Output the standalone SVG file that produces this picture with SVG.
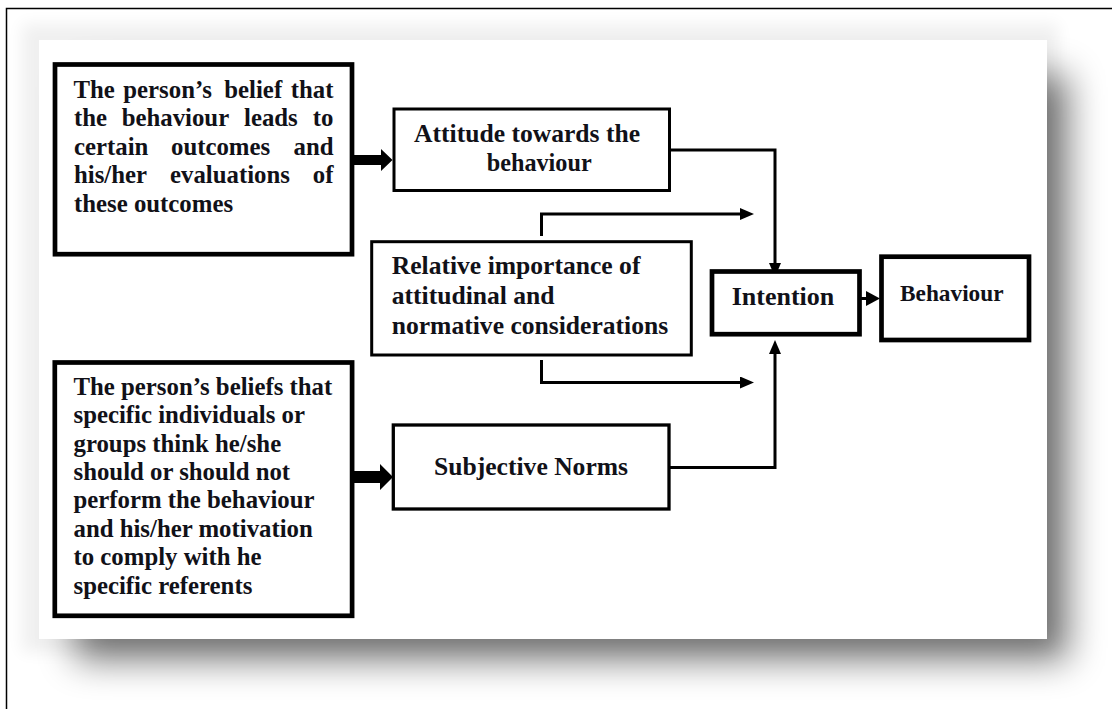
<svg xmlns="http://www.w3.org/2000/svg" width="1112" height="709" viewBox="0 0 1112 709">
  <style>
    .box { fill: #ffffff; stroke: #000000; }
    .t { font-family: "Liberation Serif", "Times New Roman", serif; font-weight: bold; fill: #111118; }
    .t1 { font-size: 24.8px; }
    .t2 { font-size: 25.6px; }
    .wire { fill: none; stroke: #000000; stroke-width: 3; stroke-linejoin: miter; }
  </style>
  <defs>
    <filter id="shadowBlur" x="-10%" y="-15%" width="120%" height="130%">
      <feGaussianBlur stdDeviation="18"/>
    </filter>
    <filter id="haloBlur" x="-10%" y="-10%" width="120%" height="120%">
      <feGaussianBlur stdDeviation="8"/>
    </filter>
    <marker id="head" viewBox="0 0 14 12" refX="0" refY="6" markerWidth="14" markerHeight="12" markerUnits="userSpaceOnUse" orient="auto">
      <path d="M0,0 L14,6 L0,12 Z" fill="#000000"/>
    </marker>
    <marker id="headSmall" viewBox="0 0 14 15" refX="0" refY="7.5" markerWidth="14" markerHeight="15" markerUnits="userSpaceOnUse" orient="auto">
      <path d="M0,0 L14,7.5 L0,15 Z" fill="#000000"/>
    </marker>
  </defs>

  <!-- page background and frame -->
  <rect x="0" y="0" width="1112" height="709" fill="#ffffff"/>
  <rect x="6.5" y="8.5" width="1200" height="800" fill="none" stroke="#000000" stroke-width="1.5"/>

  <!-- panel with soft drop shadow -->
  <rect x="22" y="24" width="1036" height="628" fill="#000000" opacity="0.06" filter="url(#haloBlur)"/>
  <rect x="75" y="75" width="993" height="585" fill="#000000" opacity="0.53" filter="url(#shadowBlur)"/>
  <rect x="39" y="40" width="1008" height="599" fill="#ffffff"/>

  <!-- connectors -->
  <g id="connectors">
    <path d="M353,155 H381 V149 L392.5,160 L381,171 V165 H353 Z" fill="#000000"/>
    <path d="M353,471 H380 V464 L393,477 L380,490 V483 H353 Z" fill="#000000"/>
    <path class="wire" d="M670,150 H775 V263" marker-end="url(#head)"/>
    <path class="wire" d="M669,467.5 H775 V354" marker-end="url(#head)"/>
    <path class="wire" d="M541.5,236 V214 H740" marker-end="url(#head)"/>
    <path class="wire" d="M541.5,360 V382.5 H740" marker-end="url(#head)"/>
    <path class="wire" d="M860,298.5 H866" marker-end="url(#headSmall)"/>
  </g>

  <g id="beliefs-outcomes">
    <rect class="box" x="55" y="64.5" width="297" height="189.7" stroke-width="4.7"/>
    <text class="t t1" y="97.5"><tspan x="73.5">The</tspan><tspan x="123.3">person’s</tspan><tspan x="224.3">belief</tspan><tspan x="333.5" text-anchor="end">that</tspan></text>
    <text class="t t1" y="126.1"><tspan x="74">the</tspan><tspan x="121.7">behaviour</tspan><tspan x="244">leads</tspan><tspan x="333.5" text-anchor="end">to</tspan></text>
    <text class="t t1" y="154.7"><tspan x="74">certain</tspan><tspan x="171">outcomes</tspan><tspan x="333.5" text-anchor="end">and</tspan></text>
    <text class="t t1" y="183.3"><tspan x="74">his/her</tspan><tspan x="170">evaluations</tspan><tspan x="333.5" text-anchor="end">of</tspan></text>
    <text class="t t1" x="74" y="211.9">these outcomes</text>
  </g>

  <g id="attitude">
    <rect class="box" x="394" y="109" width="275.5" height="81.5" stroke-width="3"/>
    <text class="t t2" x="414" y="141.7">Attitude towards the</text>
    <text class="t t2" x="486.7" y="170.7" textLength="105" lengthAdjust="spacingAndGlyphs">behaviour</text>
  </g>

  <g id="relative-importance">
    <rect class="box" x="371.7" y="241.7" width="319.6" height="113.3" stroke-width="3"/>
    <text class="t t2" x="391.7" y="274">Relative importance of</text>
    <text class="t t2" x="391.7" y="304">attitudinal and</text>
    <text class="t t2" x="391.7" y="334">normative considerations</text>
  </g>

  <g id="intention">
    <rect class="box" x="712" y="271.5" width="147.5" height="62.7" stroke-width="4.7"/>
    <text class="t" x="731.7" y="305" font-size="26">Intention</text>
  </g>

  <g id="behaviour">
    <rect class="box" x="881.5" y="256.7" width="147.5" height="83.3" stroke-width="4.7"/>
    <text class="t" x="900" y="301" font-size="23.3">Behaviour</text>
  </g>

  <g id="beliefs-referents">
    <rect class="box" x="54.8" y="362.5" width="297.3" height="253.3" stroke-width="4.7"/>
    <text class="t t1" x="73.5" y="395">The person’s beliefs that</text>
    <text class="t t1" x="73.5" y="423.4">specific individuals or</text>
    <text class="t t1" x="73.5" y="451.7">groups think he/she</text>
    <text class="t t1" x="73.5" y="480.1">should or should not</text>
    <text class="t t1" x="73.5" y="508.4">perform the behaviour</text>
    <text class="t t1" x="73.5" y="536.8">and his/her motivation</text>
    <text class="t t1" x="73.5" y="565.1">to comply with he</text>
    <text class="t t1" x="73.5" y="593.5">specific referents</text>
  </g>

  <g id="subjective-norms">
    <rect class="box" x="393.3" y="425" width="275.7" height="84" stroke-width="3.3"/>
    <text class="t t2" x="434" y="475">Subjective Norms</text>
  </g>
</svg>
